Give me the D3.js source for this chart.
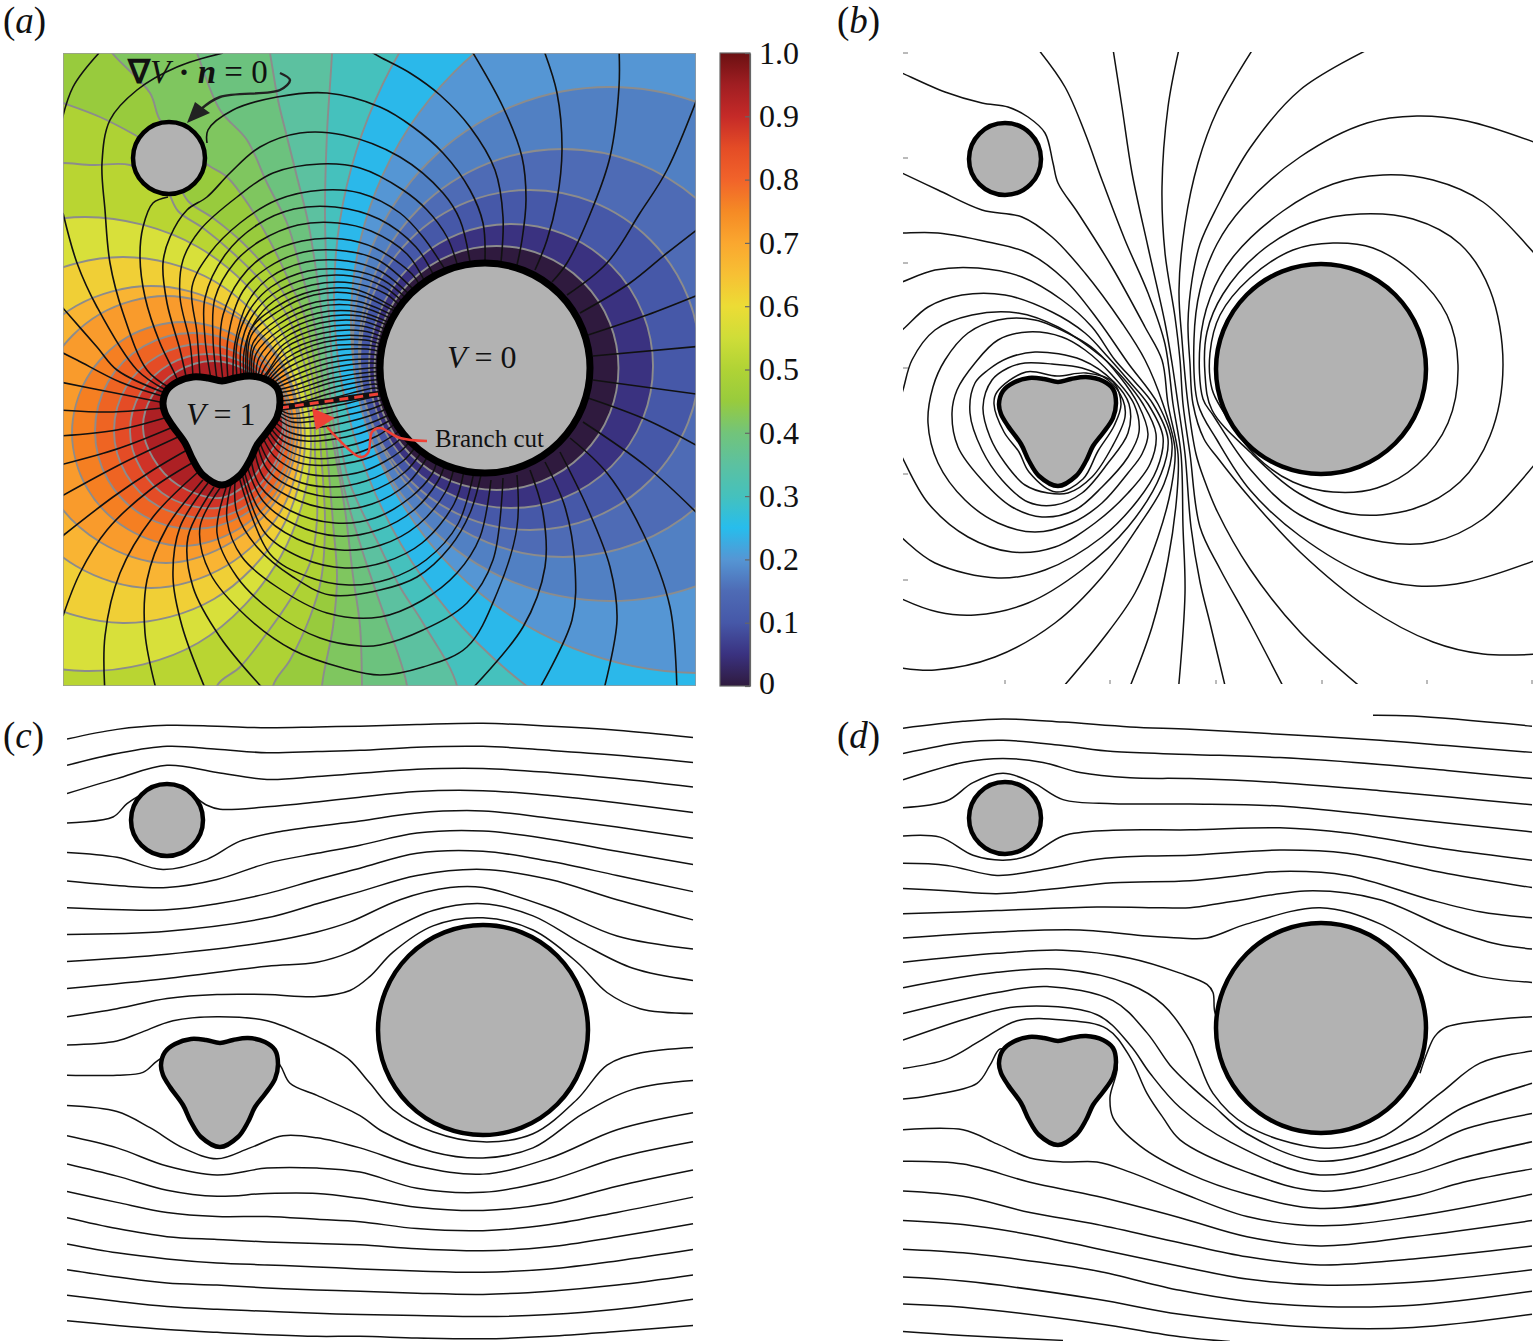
<!DOCTYPE html>
<html><head><meta charset="utf-8">
<script src="https://cdn.jsdelivr.net/npm/d3@7"></script>
<style>html,body{margin:0;padding:0;background:#fff}svg{display:block}text{font-family:"Liberation Serif",serif;fill:#111}</style>
</head><body><svg id="fig" width="1533" height="1341"></svg>
<script>
const bigCircle = {cx:422, cy:315, r:105};
const smallCircle = {cx:106, cy:105, r:36};
const triangle = [[100,350],[104,337],[114,329],[130,324],[145,325],[159,328],[172,325],[187,323],[204,327],[214,335],[217,349],[214,364],[204,379],[194,392],[187,407],[177,422],[159,432],[140,422],[130,407],[122,390],[109,372],[102,360]];
const colorbarTicks = [0,.1,.2,.3,.4,.5,.6,.7,.8,.9,1];
const colorbarLevels = [0,.05,.1,.15,.2,.25,.3,.35,.4,.45,.5,.55,.6,.65,.7,.75,.8,.85,.9,.95,1];
const colorbarColors = ["#2f1a3e","#3a3280","#4658a8","#4e6bb5","#5596d4","#27bdec","#45c1bd","#5cc1a0","#72c47a","#98cb3d","#b0d335","#cfdd38","#ecdc35","#f7c034","#faa72f","#f58a25","#f1632a","#e44c26","#c52a28","#a01e22","#6b1012"];
const baseBand = "#b9d532";
const lowBandColors = ["#aed234","#98cb3d","#7fc65f","#6cc27e","#5cc1a0","#45c1bd"];
const lowContours = [
[[250,350],[225,264],[200,230],[170,200],[140,175],[115,158],[100,130],[67,112],[30,112],[0,110],[-30,110],[-40,-40],[720,-40],[720,680],[154,680],[154,633],[177,614],[204,580],[227,547],[247,510],[254,467],[252,400]],
[[254,350],[233,264],[210,224],[180,190],[150,165],[125,148],[110,120],[85,90],[72,82],[37,64],[0,50],[-30,40],[-40,-40],[720,-40],[720,680],[210,680],[210,633],[227,607],[247,564],[258,527],[262,470],[258,400]],
[[258,350],[242,264],[227,230],[210,194],[187,154],[164,124],[145,112],[120,90],[97,67],[87,40],[49,0],[20,-40],[720,-40],[720,680],[259,680],[259,633],[270,574],[274,524],[270,470],[264,400]],
[[263,350],[250,264],[237,214],[224,170],[204,130],[184,87],[157,57],[134,0],[120,-40],[720,-40],[720,680],[299,680],[299,633],[297,573],[290,523],[282,457],[272,400]],
[[268,350],[259,264],[252,210],[244,164],[234,124],[224,84],[215,47],[207,0],[200,-40],[720,-40],[720,680],[344,680],[344,633],[324,570],[317,550],[300,500],[280,430]],
[[273,350],[266,264],[262,164],[264,80],[269,0],[270,-40],[720,-40],[720,680],[394,680],[394,633],[360,570],[337,534],[317,494],[285,425]]
];
const lowRingColors = ["#2bb8ea","#5596d4","#5180c3","#4e6bb5","#4658a8","#3a3280","#2f1a3e"];
const lowRings = [
{cx:760,cy:244,r:489},{cx:640,cy:268,r:352},{cx:547,cy:291,r:257},{cx:500,cy:300,r:204},{cx:467,cy:307,r:170},{cx:448,cy:313,r:142},{cx:433.5,cy:315,r:122}
];
const highBandColors = ["#d8e03a","#f0cf36","#f9b433","#f99b2c","#f57f22","#ee6423","#e44c26","#cf3227","#ad2024"];
const highContours = [
[[248,390],[218,277],[135,194],[22,164],[-91,194],[-174,277],[-204,390],[-174,503],[-91,586],[22,618],[135,590],[218,503]],
[[242,386],[218,295],[151,228],[60,204],[-31,228],[-98,295],[-122,386],[-98,477],[-31,544],[60,570],[151,546],[218,477]],
[[238,383],[218,308],[163,253],[88,233],[13,253],[-42,308],[-62,383],[-42,458],[13,513],[88,535],[163,513],[218,458]],
[[235,375],[217,309],[169,261],[103,243],[37,261],[-11,309],[-29,375],[-11,441],[37,489],[103,510],[169,489],[217,441]],
[[231,380],[216,325],[175.5,284],[120,269],[64.5,284],[24,325],[9,380],[24,435],[64.5,476],[120,493],[175.5,476],[216,435]],
[[228,378],[215,329],[179,293],[130,280],[81,293],[45,329],[32,378],[45,427],[81,463],[130,476],[179,463],[215,427]],
[[225,378],[213,334],[181,303],[138,291],[95,303],[63,334],[51,378],[63,421],[95,453],[150,465],[190,448],[213,415]],
[[222,378],[212,339],[183,311],[145,301],[107,311],[78,339],[67,378],[78,416],[107,445],[155,455],[190,438],[212,410]],
[[220,375],[211,343],[185,318],[150,308],[115,318],[89,343],[80,375],[90,405],[115,432],[157,445],[185,430],[207,400]]
];
const aOuterLines = [
[[36,0],[10,34],[-3,75]],
[[160,0],[114,14],[74,37],[47,67],[39,110],[42,157],[47,210],[60,260],[84,317],[107,335]],
[[0,160],[14,210],[34,254],[74,317],[103,337]],
[[-1,254],[34,294],[54,317],[102,340]],
[[-6,297],[14,307],[57,329],[99,343]],
[[-3,329],[47,339],[97,349]],[[-3,357],[50,359],[100,355]],[[-3,383],[54,377],[105,364]],[[-3,412],[57,395],[110,374]],[[-3,444],[60,410],[115,384]],
[[-3,485],[50,444],[90,417],[124,397]],[[0,563],[17,520],[44,477],[87,437],[129,410]],
[[42,640],[42,583],[57,520],[90,464],[134,420]],[[94,640],[82,580],[84,527],[104,474],[140,427]],[[144,640],[119,573],[110,524],[117,474],[145,430]],[[204,640],[157,584],[130,534],[125,484],[151,434]],
[[405,640],[460,574],[482,514],[480,460],[467,417]],[[474,640],[509,567],[512,514],[502,454],[482,409]],[[540,640],[554,567],[547,514],[524,454],[497,399]],[[614,640],[607,554],[580,480],[544,420],[507,385]],
[[640,466],[584,414],[520,369]],[[640,396],[584,367],[525,345]],[[640,342],[530,327]],[[530,303],[640,293]],[[525,282],[584,262],[640,240]],[[517,260],[567,230],[604,200],[640,172]],
[[504,242],[544,210],[577,160],[604,117],[640,30]],[[556,-5],[556,34],[547,104],[530,154],[504,210],[489,229]],[[480,-5],[494,40],[499,97],[494,147],[484,187],[472,217]],
[[407,-5],[440,54],[459,104],[463,147],[459,187],[454,212]],[[305,-3],[317,4],[347,20],[377,42],[407,74],[432,117],[440,164],[438,209]],
[[105,144],[90,150],[80,174],[77,204],[82,244],[97,290],[110,317],[116,330]],
[[144,90],[145,77],[170,57],[214,44],[264,40],[317,54],[350,74],[380,100],[407,137],[420,170],[422,207]],
[[124,328],[117,297],[104,250],[100,210],[107,184],[124,157],[144,144],[167,120],[197,94],[237,80],[280,82],[337,104],[380,140],[397,167],[407,209]]
];
const aUpperArcs = [
[[130,324],[127,290],[117,244],[120,207],[137,177],[174,144],[210,120],[257,111],[297,115],[340,137],[364,157],[384,184],[395,214]],
[[137,324],[134,280],[129,234],[147,200],[177,170],[214,147],[260,137],[297,140],[337,160],[360,184],[383,218]],
[[148,326],[142,285],[142,245],[162,202],[194,172],[231,156],[272,154],[316,166],[353,194],[371,223]],
[[154,327],[150,285],[152,245],[172,209],[197,188],[235,172],[275,170],[308,178],[344,201],[362,229]],
[[160,328],[157,290],[160,262],[177,226],[201,203],[239,188],[279,186],[312,195],[349,221],[357,233]],
[[165,327],[165,285],[180,238],[204,215],[241,199],[282,198],[315,207],[352,238]],
[[170,326],[172,290],[185,249],[206,225],[243,209],[284,208],[317,218],[348,243]],
[[174,325],[174,290],[186,258],[208,234],[245,218],[286,217],[320,227],[345,247]],
[[178,324],[178,294],[188,265],[210,241],[247,225],[288,223],[321,234],[341,250]],
[[181,324],[181,299],[190,272],[211,248],[249,232],[289,230],[323,241],[337,253]],
[[183,323],[187,278],[213,254],[250,238],[291,236],[335,257]],
[[185,323],[188,283],[214,259],[251,242],[292,241],[333,259]],
[[187,323],[190,290],[215,266],[253,249],[293,248],[331,263]],
[[189,323],[191,295],[216,271],[254,254],[294,253],[329,266]],
[[191,324],[193,301],[218,276],[255,260],[296,259],[327,270]],
[[193,324],[196,305],[219,281],[256,265],[297,263],[326,273]],
[[195,324],[199,310],[220,286],[257,270],[298,268],[324,277]],
[[197,325],[202,314],[221,291],[258,275],[299,273],[323,281]],
[[199,326],[205,318],[222,295],[260,280],[300,278],[322,285]],
[[201,326],[223,300],[261,285],[301,283],[321,288]],
[[203,327],[224,305],[262,289],[302,287],[320,292]],
[[205,328],[225,309],[263,294],[303,292],[320,295]],
[[207,329],[226,314],[264,299],[304,296],[319,299]],
[[209,331],[227,319],[265,305],[305,301],[319,303]],
[[211,333],[228,324],[266,310],[307,306],[318,307]],
[[213,335],[229,328],[268,315],[307,310],[318,311]],
[[214,337],[230,333],[269,320],[308,315],[318,315]],
[[215,340],[231,337],[270,325],[309,319],[318,319]],
[[216,344],[232,341],[271,329],[310,323],[318,323]],
[[217,348],[233,346],[272,334],[311,327],[318,327]],
[[217,352],[234,350],[273,339],[312,331],[319,333]],
[[217,354],[235,354],[274,344],[313,335],[320,337]]
];
const aLowerArcs = [
[[157,435],[137,474],[147,520],[184,564],[230,597],[280,615],[317,622],[360,614],[404,594],[434,540],[454,474],[454,422]],
[[163,435],[154,480],[174,524],[210,559],[257,585],[297,593],[317,592],[360,577],[404,550],[430,507],[440,425]],
[[168,431],[164,467],[179,504],[214,534],[264,560],[317,564],[360,547],[394,520],[417,484],[428,427]],
[[172,428],[174,460],[194,494],[230,524],[267,542],[317,537],[354,524],[387,494],[407,460],[418,422]],
[[176,424],[207,501],[243,523],[286,532],[326,526],[363,507],[395,471],[411,419]],
[[179,421],[202,480],[239,505],[282,515],[322,509],[359,490],[391,451],[401,418]],
[[181,417],[197,458],[234,486],[278,497],[318,492],[355,472],[383,438],[391,415]],
[[184,413],[200,448],[231,471],[275,483],[315,477],[351,457],[375,428],[382,411]],
[[188,407],[197,433],[228,458],[272,470],[312,465],[348,444],[369,421],[374,408]],
[[192,400],[201,425],[225,443],[269,456],[309,451],[345,430],[365,403]],
[[195,394],[204,416],[224,432],[266,444],[306,439],[342,419],[359,398]],
[[197,390],[208,411],[231,427],[264,434],[303,428],[340,408],[353,393]],
[[200,385],[211,403],[232,417],[261,423],[301,418],[338,398],[347,388]],
[[203,381],[215,398],[237,410],[269,412],[308,404],[335,388],[341,381]],
[[205,377],[218,393],[247,405],[287,402],[316,391],[338,377]],
[[207,374],[220,388],[245,396],[285,393],[314,383],[333,370]],
[[209,371],[222,383],[243,388],[283,384],[312,375],[331,365]],
[[211,368],[224,378],[243,383],[282,378],[310,369],[328,361]],
[[213,364],[226,373],[250,375],[280,370],[309,362],[325,355]],
[[214,361],[229,369],[259,367],[288,361],[308,356],[323,350]],
[[215,358],[228,365],[258,362],[287,355],[306,350],[322,346]],
[[216,356],[227,361],[256,356],[286,350],[305,345],[321,342]]
];
const branchCut = [[217,355],[322,340]];
const redCurve = [[364,388],[337,385],[317,375],[309,379],[305,400],[297,404],[264,374]];
const redHead = [[249,355],[253,377],[272,365]];
const darkCurve = [[217,20],[227,27],[217,37],[157,44],[137,57]];
const darkHead = [[124,70],[132,49],[147,60]];
const bOpen = [
[[-6,15],[3,19],[46,38],[83,49],[109,53],[129,63],[146,79],[154,109],[159,129],[179,159],[213,213],[246,273],[263,306],[269,350],[279,400],[278,440],[269,506],[253,573],[228,640]],
[[-6,115],[3,119],[39,136],[83,156],[123,163],[153,183],[186,219],[223,269],[246,306],[264,350],[276,395],[272,435],[259,483],[236,539],[203,586],[158,640]],
[[-6,179],[3,179],[39,179],[89,188],[129,199],[166,226],[199,266],[229,309],[259,350],[273,390],[265,430],[239,473],[203,523],[156,569],[96,603],[36,616],[3,614],[-6,612]],
[[-6,231],[3,228],[36,216],[79,214],[123,223],[163,246],[193,273],[216,306],[236,328],[254,350],[269,385],[262,420],[229,473],[183,516],[129,549],[76,561],[39,558],[3,545],[-6,540]],
[[-6,281],[3,276],[29,253],[63,241],[106,241],[153,258],[186,279],[209,303],[230,327],[249,350],[264,383],[258,415],[239,446],[203,483],[146,516],[99,524],[36,509],[3,484],[-6,476]],
[[-6,360],[3,339],[13,306],[36,276],[73,261],[119,259],[159,273],[203,303],[225,325],[244,350],[257,380],[251,410],[229,439],[196,469],[156,493],[113,498],[69,483],[29,449],[3,403],[-6,385]],
[[139,-5],[166,33],[186,79],[203,126],[226,186],[249,239],[266,290],[274,350],[282,400],[284,473],[286,539],[279,640]],
[[214,-5],[223,53],[233,119],[249,193],[266,269],[273,309],[279,350],[286,400],[292,473],[301,528],[311,569],[328,640]],
[[280,-5],[269,53],[263,133],[266,199],[276,263],[281,306],[284,350],[291,400],[301,473],[321,515],[351,569],[388,640]],
[[354,-5],[318,57],[299,109],[286,170],[280,236],[283,286],[289,350],[297,400],[305,425],[318,457],[351,515],[401,578],[470,640]],
[[470,-5],[401,36],[351,94],[318,153],[301,190],[293,226],[289,269],[291,310],[294,350],[305,385],[318,403],[351,444],[401,498],[468,553],[534,588],[584,600],[640,600]],
[[640,90],[568,67],[518,62],[468,69],[401,103],[344,153],[318,190],[301,236],[295,285],[299,350],[318,386],[351,436],[401,482],[468,521],[518,532],[568,528],[640,505]],
[[640,205],[584,148],[534,126],[484,121],[434,130],[384,157],[334,203],[311,244],[301,290],[304,345],[314,361],[351,415],[401,461],[484,488],[534,488],[584,465],[640,405]]
];
const bClosed = [
[[158,322],[127,318],[98,338],[95,350],[105,378],[120,398],[130,418],[157,438],[184,425],[199,397],[215,372],[222,350],[214,328],[187,319]],
[[126,309],[153,310],[183,314],[209,326],[224,346],[226,363],[213,393],[193,423],[169,439],[149,439],[126,431],[106,409],[91,383],[84,353],[93,326],[109,314]],
[[136,298],[183,306],[215,328],[230,350],[229,379],[209,409],[183,439],[156,451],[129,448],[103,426],[83,396],[71,359],[76,329],[89,316],[109,304]],
[[129,278],[163,283],[186,296],[213,321],[235,350],[240,378],[229,403],[203,433],[176,456],[143,463],[113,453],[83,426],[59,393],[53,359],[58,336],[76,309],[99,286]],
[[46,306],[69,279],[99,266],[136,266],[176,283],[196,296],[221,323],[239,350],[249,380],[243,400],[229,419],[203,449],[173,469],[136,478],[99,469],[66,446],[39,409],[29,369],[34,333]],
[[604,311],[591,236],[561,190],[514,165],[461,160],[411,169],[361,198],[324,240],[308,278],[306,320],[313,356],[351,398],[401,440],[453,460],[514,455],[561,428],[591,382]],
[[559,311],[548,261],[514,219],[474,194],[434,189],[394,196],[351,224],[321,261],[311,299],[313,335],[324,357],[358,403],[394,428],[434,438],[478,434],[518,411],[549,369]]
];
const bLeftTicks = [-1,104,209,314,420,526];
const bBottomTicks = [106,211,317,423,528,633];
const cLines = [
[[6,72],[56,48],[106,38],[156,40],[206,44],[256,42],[299,40],[356,36],[422,33],[489,40],[556,50],[632,68]],
[[6,137],[56,108],[106,90],[156,97],[206,106],[256,103],[299,100],[356,92],[422,90],[489,100],[556,112],[632,130]],
[[6,207],[56,170],[106,137],[156,155],[206,172],[256,165],[299,157],[356,147],[422,145],[489,155],[556,170],[632,191]],
[[6,280],[52,265],[66,232],[85,205],[106,195],[127,205],[146,236],[159,246],[206,240],[256,228],[299,216],[356,202],[422,200],[489,212],[556,230],[632,254]],
[[6,353],[56,365],[102,395],[146,370],[179,325],[222,300],[299,275],[356,255],[422,250],[489,268],[556,290],[632,318]],
[[6,424],[56,435],[106,440],[156,420],[206,380],[256,355],[299,335],[356,305],[422,300],[489,320],[556,350],[632,383]],
[[6,490],[106,495],[156,480],[206,455],[256,420],[299,392],[356,355],[422,350],[489,375],[556,410],[632,450]],
[[6,556],[106,548],[206,515],[256,480],[299,450],[356,410],[422,395],[489,420],[556,470],[632,520]],
[[6,623],[106,605],[206,575],[256,550],[289,525],[339,470],[389,440],[422,440],[489,490],[556,560],[632,592]],
[[6,690],[106,665],[206,635],[256,625],[289,600],[322,555],[372,497],[422,480],[472,510],[522,580],[572,640],[632,670]],
[[6,760],[56,740],[106,715],[156,705],[206,705],[256,710],[289,695],[309,660],[332,600],[372,535],[422,515],[472,545],[516,625],[546,700],[579,740],[632,752]],
[[6,830],[56,820],[79,800],[112,770],[156,760],[206,770],[256,820],[272,840],[289,868],[309,925],[332,990],[372,1045],[422,1070],[472,1050],[516,965],[546,880],[579,850],[632,836]],
[[6,905],[56,905],[82,898],[96,870],[110,850],[156,860],[206,850],[219,880],[229,925],[256,955],[299,1005],[322,1045],[372,1095],[422,1110],[472,1085],[522,1000],[572,940],[632,918]],
[[6,980],[56,995],[89,1035],[122,1085],[156,1112],[189,1085],[222,1055],[256,1060],[299,1085],[356,1130],[422,1150],[489,1110],[556,1040],[632,998]],
[[6,1055],[56,1085],[106,1130],[156,1152],[206,1135],[256,1135],[299,1145],[356,1185],[422,1195],[489,1165],[556,1110],[632,1070]],
[[6,1125],[56,1155],[106,1190],[156,1205],[206,1198],[256,1198],[299,1210],[356,1232],[422,1240],[489,1222],[556,1180],[632,1140]],
[[6,1193],[56,1220],[106,1245],[156,1255],[206,1255],[256,1262],[299,1268],[356,1285],[422,1290],[489,1275],[556,1245],[632,1207]],
[[6,1258],[56,1285],[106,1305],[156,1312],[206,1318],[256,1322],[299,1325],[356,1335],[422,1340],[489,1330],[556,1305],[632,1273]],
[[6,1323],[56,1345],[106,1360],[156,1370],[206,1375],[256,1380],[299,1385],[356,1390],[422,1393],[489,1385],[556,1365],[632,1337]],
[[6,1387],[56,1405],[106,1420],[156,1425],[206,1432],[256,1437],[299,1440],[356,1445],[422,1448],[489,1440],[556,1425],[632,1400]],
[[6,1450],[56,1465],[106,1478],[156,1485],[206,1490],[256,1495],[299,1498],[356,1500],[422,1503],[489,1498],[556,1485],[632,1460]],
[[6,1513],[56,1525],[106,1535],[156,1542],[206,1548],[256,1552],[299,1552],[356,1556],[422,1558],[489,1552],[556,1540],[632,1525]]
];
const dLines = [
[[4,45],[64,28],[104,22],[164,30],[231,42],[291,48],[381,60],[481,75],[548,88],[633,105]],
[[4,108],[64,80],[104,75],[164,88],[214,103],[291,110],[381,118],[481,135],[548,150],[633,170]],
[[4,173],[64,130],[104,120],[144,130],[181,155],[231,168],[291,170],[381,180],[481,200],[548,215],[633,235]],
[[4,242],[48,225],[74,180],[104,157],[134,180],[164,222],[214,232],[291,233],[381,238],[481,262],[548,280],[633,302]],
[[4,312],[41,315],[74,360],[104,372],[131,360],[164,312],[214,298],[291,297],[381,292],[448,305],[548,345],[633,372]],
[[4,380],[48,385],[98,410],[144,395],[198,370],[248,362],[291,360],[381,347],[448,355],[548,405],[633,440]],
[[4,442],[48,448],[98,455],[148,445],[214,428],[291,423],[348,408],[381,400],[448,410],[531,470],[581,500],[633,515]],
[[4,505],[98,497],[198,488],[264,490],[291,490],[331,475],[414,448],[481,470],[548,540],[598,580],[633,592]],
[[4,565],[98,550],[181,545],[248,560],[281,565],[308,565],[348,530],[421,490],[481,530],[548,630],[581,660],[633,675]],
[[4,625],[98,603],[164,595],[231,615],[281,652],[308,680],[314,700],[316,750],[325,790]],
[[521,900],[528,850],[536,808],[548,785],[633,760]],
[[4,688],[98,650],[164,643],[231,680],[264,730],[291,820],[298,860],[314,950],[348,1030],[421,1085],[481,1060],[541,950],[581,875],[633,845]],
[[4,752],[98,700],[148,685],[214,720],[248,800],[271,880],[291,930],[314,980],[348,1050],[421,1118],[514,1060],[564,985],[633,925]],
[[4,818],[74,760],[118,735],[198,755],[231,830],[251,900],[281,985],[331,1070],[421,1152],[514,1100],[564,1040],[633,1000]],
[[4,888],[48,865],[81,820],[118,770],[164,768],[208,790],[231,860],[248,950],[264,1010],[281,1065],[348,1145],[421,1192],[514,1150],[564,1110],[633,1070]],
[[4,964],[31,955],[78,925],[91,880],[101,840],[112,850]],
[[208,860],[218,880],[211,960],[214,1010],[241,1080],[291,1150],[348,1200],[421,1235],[514,1205],[564,1170],[633,1137]],
[[4,1040],[64,1040],[98,1075],[131,1110],[164,1120],[198,1120],[231,1145],[281,1195],[348,1255],[421,1278],[514,1255],[633,1200]],
[[4,1118],[64,1125],[131,1170],[198,1205],[281,1258],[348,1305],[421,1328],[514,1305],[633,1265]],
[[4,1192],[64,1205],[131,1245],[198,1275],[281,1320],[348,1355],[421,1375],[514,1360],[633,1328]],
[[4,1265],[64,1275],[131,1300],[198,1335],[281,1378],[348,1410],[421,1425],[514,1418],[633,1387]],
[[4,1336],[64,1345],[131,1365],[198,1390],[281,1438],[348,1465],[421,1478],[514,1475],[633,1440]],
[[4,1405],[64,1415],[198,1460],[281,1497],[421,1530],[514,1530],[633,1497]],
[[4,1472],[64,1480],[198,1520],[281,1553],[331,1565]],
[[4,1540],[64,1550],[164,1562]],
[[474,13],[514,15],[633,40]]
];
const panelLetters = ["a","b","c","d"];

const svg = d3.select("#fig");
const defs = svg.append("defs");
const span = 633;
const mk = (x0,y0) => ({x:d3.scaleLinear().domain([0,span]).range([x0,x0+span]), y:d3.scaleLinear().domain([0,span]).range([y0,y0+span])});
const pa = mk(63,53), pb = mk(899,54), pc = mk(61,715), pd = mk(899,713);
const readY = d3.scaleLinear().domain([0,1561]).range([710,1340]);
const lineOf = (p,yS,closed) => d3.line().x(d=>p.x(d[0])).y(d=>(yS||p.y)(d[1])).curve(closed? d3.curveCatmullRomClosed.alpha(.5): d3.curveCatmullRom.alpha(.5));
const clip = (id,x,y,w,h)=>defs.append("clipPath").attr("id",id).append("rect").attr("x",x).attr("y",y).attr("width",w).attr("height",h);
clip("clipA",63,53,633,633); clip("clipB",903,52,630,632); clip("clipC",67,700,628,641); clip("clipD",903,700,630,641);

function bodies(g,p,sw){
  g.append("path").attr("d",lineOf(p,null,true)(triangle)).attr("fill","#b2b2b2").attr("stroke","#000").attr("stroke-width",sw);
  g.append("circle").attr("cx",p.x(bigCircle.cx)).attr("cy",p.y(bigCircle.cy)).attr("r",p.x(bigCircle.r)-p.x(0)).attr("fill","#b2b2b2").attr("stroke","#000").attr("stroke-width",sw);
  g.append("circle").attr("class","small").attr("cx",p.x(smallCircle.cx)).attr("cy",p.y(smallCircle.cy)).attr("r",p.x(smallCircle.r)-p.x(0)).attr("fill","#b2b2b2").attr("stroke","#000").attr("stroke-width",sw);
}
function strokeLines(g,data,gen,w,col){
  g.selectAll(null).data(data).enter().append("path").attr("d",gen).attr("fill","none").attr("stroke",col||"#111").attr("stroke-width",w);
}
const straight = p => d3.line().x(d=>p.x(d[0])).y(d=>p.y(d[1]));

// ---- panel a
const ga = svg.append("g").attr("clip-path","url(#clipA)");
ga.append("rect").attr("x",63).attr("y",53).attr("width",633).attr("height",633).attr("fill",baseBand);
const closedA = lineOf(pa,null,true), openA = lineOf(pa);
lowContours.forEach((c,i)=>ga.append("path").attr("d",closedA(c)).attr("fill",lowBandColors[i]).attr("stroke","#8c8c8c").attr("stroke-width",1.9));
lowRings.forEach((c,i)=>ga.append("circle").attr("cx",pa.x(c.cx)).attr("cy",pa.y(c.cy)).attr("r",pa.x(c.r)-pa.x(0)).attr("fill",lowRingColors[i]).attr("stroke","#8c8c8c").attr("stroke-width",1.9));
highContours.forEach((c,i)=>ga.append("path").attr("d",closedA(c)).attr("fill",highBandColors[i]).attr("stroke","#8c8c8c").attr("stroke-width",1.9));
strokeLines(ga,aOuterLines,openA,1.6);
strokeLines(ga,aUpperArcs,openA,1.5);
strokeLines(ga,aLowerArcs,openA,1.5);
ga.append("path").attr("d",straight(pa)(branchCut)).attr("stroke","#111").attr("stroke-width",6);
ga.append("path").attr("d",straight(pa)(branchCut)).attr("stroke","#ef4136").attr("stroke-width",3).attr("stroke-dasharray","9 6");
bodies(ga,pa,7);
ga.select("circle.small").attr("stroke-width",4.5);
ga.append("rect").attr("x",63).attr("y",53).attr("width",633).attr("height",633).attr("fill","none").attr("stroke","#9a9a9a").attr("stroke-width",1.5);
ga.append("path").attr("d",openA(redCurve)).attr("fill","none").attr("stroke","#ef4136").attr("stroke-width",2.5);
ga.append("path").attr("d",straight(pa)(redHead)+"Z").attr("fill","#ef4136");
ga.append("path").attr("d",openA(darkCurve)).attr("fill","none").attr("stroke","#222").attr("stroke-width",2.4);
ga.append("path").attr("d",straight(pa)(darkHead)+"Z").attr("fill","#222");

function eq(x,y,size,parts){
  const t=svg.append("text").attr("x",x).attr("y",y).attr("font-size",size);
  parts.forEach(([s,st,wt])=>t.append("tspan").text(s).attr("font-style",st||"normal").attr("font-weight",wt||"normal"));
  return t;
}
eq(pa.x(65),pa.y(30),33,[["∇","normal","bold"],["V","italic"],[" · ","normal","bold"],["n","italic","bold"],[" = 0"]]);
eq(pa.x(123),pa.y(372),32,[["V","italic"],[" = 1"]]);
eq(pa.x(384),pa.y(315),32,[["V","italic"],[" = 0"]]);
eq(pa.x(372),pa.y(394),25,[["Branch cut"]]);

// ---- colorbar
const cbY = d3.scaleLinear().domain([0,1]).range([686,53]);
const grad = defs.append("linearGradient").attr("id","cbGrad").attr("x1",0).attr("x2",0).attr("y1",1).attr("y2",0);
colorbarLevels.forEach((v,i)=>grad.append("stop").attr("offset",v).attr("stop-color",colorbarColors[i]));
svg.append("rect").attr("x",720).attr("y",53).attr("width",30).attr("height",633).attr("fill","url(#cbGrad)");
const cbAxis = svg.append("g").attr("transform","translate(750,0)").call(d3.axisRight(cbY).tickValues(colorbarTicks).tickSizeInner(-5).tickSizeOuter(0).tickPadding(9).tickFormat(v=>v===0?"0":d3.format(".1f")(v)));
cbAxis.selectAll("text").attr("font-size",32).attr("font-family","Liberation Serif").attr("fill","#111").attr("dy",v=>v===0?"0.22em":"0.32em");
cbAxis.selectAll("line,path").attr("stroke","#666").attr("stroke-width",1.2);
svg.append("rect").attr("x",720).attr("y",53).attr("width",30).attr("height",633).attr("fill","none").attr("stroke","#666").attr("stroke-width",1.2);

// ---- panel b
const gb = svg.append("g").attr("clip-path","url(#clipB)");
strokeLines(gb,bOpen,lineOf(pb),1.5);
strokeLines(gb,bClosed,lineOf(pb,null,true),1.5);
bodies(svg,pb,4.5);
svg.selectAll(null).data(bLeftTicks).enter().append("line").attr("x1",903).attr("x2",908).attr("y1",d=>pb.y(d)).attr("y2",d=>pb.y(d)).attr("stroke","#777");
svg.selectAll(null).data(bBottomTicks).enter().append("line").attr("y1",680).attr("y2",684).attr("x1",d=>pb.x(d)).attr("x2",d=>pb.x(d)).attr("stroke","#777");

// ---- panel c
const gc = svg.append("g").attr("clip-path","url(#clipC)");
strokeLines(gc,cLines,lineOf(pc,readY),1.5);
bodies(svg,pc,4.5);

// ---- panel d
const gd = svg.append("g").attr("clip-path","url(#clipD)");
strokeLines(gd,dLines,lineOf(pd,readY),1.5);
bodies(svg,pd,4.5);

// ---- panel letters
[[3,33],[837,33],[3,748],[837,748]].forEach(([x,y],i)=>{
  const t=svg.append("text").attr("x",x).attr("y",y).attr("font-size",37);
  t.append("tspan").text("(");t.append("tspan").text(panelLetters[i]).attr("font-style","italic");t.append("tspan").text(")");
});
</script></body></html>
